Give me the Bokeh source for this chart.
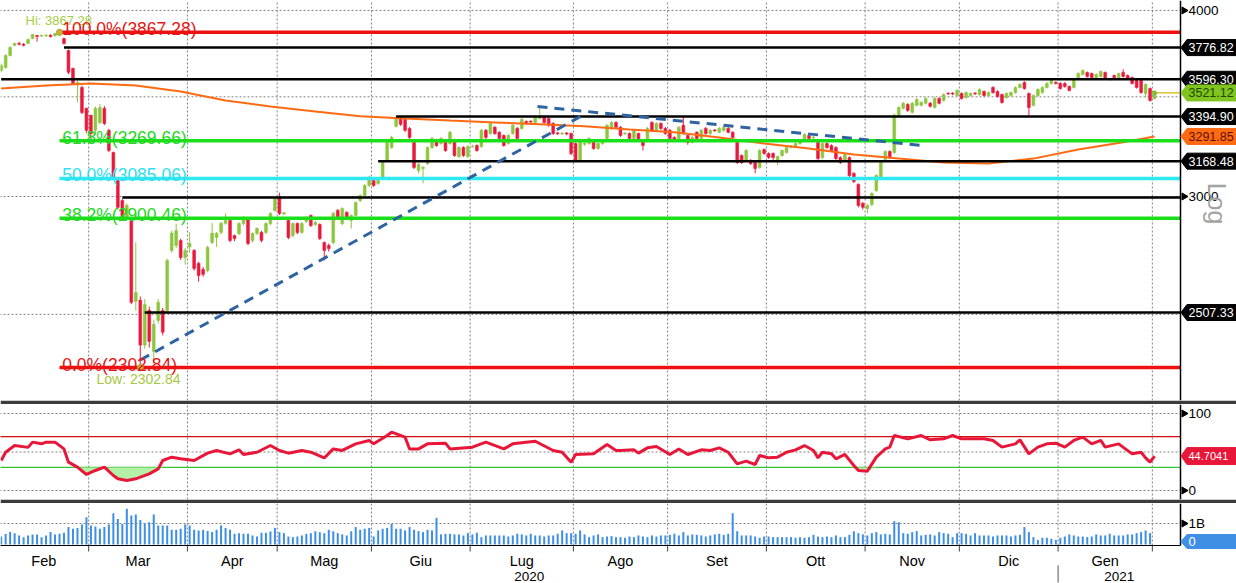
import math
import numpy as np
from bokeh.plotting import figure
from bokeh.layouts import column
from bokeh.models import Range1d
from bokeh.core.properties import value
from bokeh.embed import file_html
from bokeh.resources import INLINE

# ---------------------------------------------------------------- data
month_names = ["Feb", "Mar", "Apr", "Mag", "Giu", "Lug", "Ago", "Set", "Ott", "Nov", "Dic", "Gen", ""]
month_days = [20, 22, 20, 21, 22, 23, 21, 22, 22, 21, 22, 21, 1]
year_names = ["2020", "2021"]

opens = [
    3646, 3663, 3731, 3790, 3801, 3796, 3801, 3830, 3848, 3845,
    3846, 3850, 3846, 3852, 3830, 3760, 3657, 3565, 3551, 3438,
    3401, 3323, 3363, 3438, 3323, 3211, 3075, 2981, 2904, 2891,
    2551, 2555, 2384, 2516, 2361, 2477, 2515, 2515, 2760, 2781,
    2803, 2730, 2775, 2760, 2705, 2680, 2676, 2794, 2816, 2838,
    2878, 2891, 2824, 2833, 2877, 2900, 2803, 2833, 2838, 2838,
    2877, 2936, 2995, 2920, 2891, 2824, 2877, 2838, 2886, 2913,
    2873, 2873, 2794, 2781, 2794, 2936, 2877, 2927, 2891, 2913,
    2981, 3005, 3052, 3075, 3061, 3090, 3172, 3236, 3344, 3391,
    3380, 3333, 3262, 3123, 3133, 3157, 3236, 3272, 3256, 3262,
    3256, 3272, 3191, 3236, 3191, 3240, 3246, 3241, 3323, 3307,
    3339, 3313, 3297, 3256, 3307, 3333, 3333, 3369, 3370, 3364,
    3385, 3390, 3385, 3359, 3310, 3305, 3310, 3307, 3256, 3172,
    3252, 3256, 3262, 3231, 3256, 3282, 3333, 3364, 3339, 3305,
    3307, 3282, 3307, 3272, 3272, 3364, 3323, 3359, 3333, 3323,
    3287, 3282, 3349, 3297, 3262, 3313, 3282, 3333, 3307, 3325,
    3313, 3323, 3333, 3313, 3262, 3196, 3172, 3172, 3162, 3138,
    3226, 3206, 3206, 3172, 3196, 3211, 3238, 3241, 3256, 3272,
    3297, 3285, 3262, 3186, 3256, 3246, 3236, 3186, 3172, 3186,
    3109, 3056, 2968, 2945, 2963, 3028, 3089, 3177, 3216, 3211,
    3401, 3438, 3459, 3417, 3454, 3454, 3465, 3465, 3443, 3491,
    3480, 3520, 3520, 3507, 3518, 3496, 3507, 3520, 3512, 3529,
    3507, 3551, 3529, 3512, 3496, 3507, 3523, 3551, 3579, 3518,
    3454, 3507, 3523, 3551, 3573, 3579, 3573, 3573, 3556, 3551,
    3606, 3623, 3634, 3628, 3606, 3612, 3634, 3593, 3617, 3606,
    3634, 3617, 3606, 3590, 3590, 3518, 3545, 3491,
]
highs = [
    3685, 3738, 3785, 3806, 3810, 3803, 3830, 3858, 3852, 3853,
    3856, 3855, 3864, 3867.28, 3835, 3765, 3662, 3590, 3560, 3442,
    3405, 3448, 3462, 3450, 3330, 3216, 3080, 2990, 2968, 2900,
    2795, 2570, 2560, 2530, 2480, 2560, 2525, 2725, 2845, 2875,
    2810, 2770, 2840, 2765, 2712, 2690, 2780, 2880, 2840, 2885,
    2923, 2898, 2828, 2883, 2910, 2906, 2838, 2860, 2845, 2884,
    2928, 2996, 3018, 2930, 2897, 2883, 2882, 2884, 2910, 2918,
    2890, 2878, 2798, 2790, 2930, 2942, 2950, 2932, 2918, 2978,
    3010, 3058, 3098, 3080, 3082, 3168, 3268, 3295, 3394.9, 3394,
    3386, 3340, 3268, 3160, 3145, 3242, 3290, 3280, 3288, 3268,
    3320, 3280, 3242, 3242, 3248, 3250, 3252, 3330, 3330, 3365,
    3345, 3318, 3302, 3303, 3355, 3340, 3386, 3375, 3375, 3395,
    3452, 3396, 3390, 3365, 3315, 3314, 3314, 3312, 3262, 3278,
    3265, 3288, 3268, 3262, 3278, 3355, 3370, 3370, 3345, 3315,
    3312, 3330, 3312, 3278, 3340, 3370, 3365, 3365, 3340, 3330,
    3292, 3345, 3395, 3302, 3293, 3318, 3330, 3340, 3330, 3330,
    3340, 3345, 3340, 3318, 3268, 3202, 3228, 3178, 3168, 3228,
    3232, 3212, 3212, 3196, 3226, 3242, 3248, 3262, 3278, 3308,
    3303, 3295, 3268, 3262, 3262, 3252, 3242, 3192, 3207, 3192,
    3115, 3062, 2975, 2965, 3020, 3105, 3168, 3222, 3222, 3410,
    3450, 3472, 3466, 3472, 3492, 3476, 3498, 3472, 3498, 3498,
    3518, 3524, 3525, 3541, 3524, 3529, 3524, 3526, 3546, 3535,
    3529, 3558, 3535, 3518, 3524, 3529, 3557, 3574, 3585, 3524,
    3513, 3546, 3557, 3580, 3596.3, 3585, 3580, 3580, 3562, 3601,
    3635, 3652, 3640, 3634, 3629, 3646, 3640, 3602, 3623, 3634,
    3652, 3623, 3612, 3596, 3596, 3574, 3551, 3527,
]
lows = [
    3635, 3655, 3725, 3785, 3790, 3784, 3796, 3826, 3812, 3838,
    3840, 3836, 3842, 3846, 3795, 3625, 3568, 3470, 3408, 3310,
    3266, 3300, 3355, 3350, 3213, 3082, 2941, 2893, 2897, 2540,
    2515, 2302.84, 2370, 2375, 2320, 2465, 2420, 2505, 2750, 2770,
    2720, 2700, 2750, 2675, 2630, 2650, 2668, 2787, 2775, 2830,
    2872, 2795, 2800, 2826, 2870, 2782, 2795, 2826, 2795, 2830,
    2870, 2930, 2915, 2915, 2808, 2815, 2830, 2832, 2880, 2862,
    2866, 2805, 2717, 2755, 2786, 2898, 2870, 2898, 2855, 2908,
    2975, 3000, 3045, 3045, 3055, 3085, 3165, 3230, 3338, 3346,
    3315, 3280, 3130, 3110, 3061, 3150, 3230, 3240, 3250, 3215,
    3250, 3190, 3185, 3190, 3185, 3235, 3215, 3235, 3280, 3300,
    3300, 3275, 3240, 3250, 3300, 3275, 3326, 3352, 3360, 3358,
    3380, 3358, 3342, 3300, 3300, 3300, 3298, 3198, 3165, 3165,
    3245, 3250, 3225, 3225, 3250, 3276, 3326, 3332, 3290, 3300,
    3276, 3276, 3270, 3221, 3266, 3316, 3316, 3326, 3300, 3275,
    3265, 3276, 3300, 3250, 3256, 3275, 3276, 3300, 3300, 3316,
    3308, 3316, 3308, 3280, 3155, 3155, 3166, 3150, 3110, 3132,
    3200, 3180, 3165, 3150, 3190, 3205, 3232, 3236, 3250, 3266,
    3276, 3280, 3175, 3180, 3230, 3215, 3175, 3155, 3166, 3092,
    3063, 2950, 2940, 2922, 2955, 3020, 3082, 3170, 3180, 3205,
    3395, 3432, 3420, 3410, 3448, 3448, 3459, 3443, 3437, 3459,
    3474, 3510, 3508, 3501, 3485, 3490, 3501, 3510, 3506, 3501,
    3501, 3517, 3496, 3463, 3490, 3501, 3517, 3545, 3539, 3401,
    3448, 3501, 3517, 3545, 3567, 3567, 3539, 3550, 3529, 3545,
    3600, 3617, 3606, 3600, 3600, 3606, 3595, 3588, 3600, 3600,
    3606, 3595, 3567, 3545, 3517, 3496, 3474, 3485,
]
closes = [
    3674, 3731, 3778, 3801, 3796, 3790, 3825, 3854, 3842, 3848,
    3850, 3842, 3860, 3865, 3801, 3635, 3573, 3578, 3416, 3323,
    3307, 3438, 3443, 3358, 3221, 3089, 2950, 2904, 2959, 2547,
    2586, 2384, 2539, 2398, 2462, 2547, 2432, 2717, 2835, 2846,
    2730, 2760, 2790, 2684, 2655, 2660, 2773, 2834, 2834, 2878,
    2891, 2803, 2811, 2877, 2904, 2790, 2833, 2855, 2803, 2877,
    2922, 2990, 2922, 2925, 2816, 2877, 2838, 2877, 2904, 2868,
    2882, 2811, 2760, 2768, 2922, 2904, 2945, 2904, 2913, 2972,
    3005, 3052, 3090, 3052, 3075, 3162, 3262, 3287, 3391, 3354,
    3323, 3287, 3138, 3152, 3138, 3236, 3282, 3246, 3282, 3221,
    3313, 3196, 3236, 3196, 3241, 3243, 3221, 3323, 3287, 3359,
    3307, 3282, 3246, 3297, 3349, 3282, 3380, 3359, 3366, 3390,
    3395, 3364, 3349, 3307, 3306, 3309, 3305, 3206, 3172, 3272,
    3258, 3282, 3231, 3256, 3272, 3349, 3364, 3339, 3297, 3308,
    3282, 3323, 3277, 3246, 3333, 3323, 3359, 3333, 3307, 3282,
    3272, 3339, 3307, 3262, 3287, 3282, 3323, 3307, 3323, 3321,
    3333, 3339, 3313, 3287, 3162, 3162, 3221, 3157, 3133, 3221,
    3206, 3186, 3186, 3191, 3221, 3236, 3242, 3256, 3272, 3302,
    3282, 3289, 3181, 3256, 3236, 3221, 3181, 3162, 3201, 3099,
    3070, 2959, 2950, 2959, 3014, 3099, 3162, 3216, 3186, 3401,
    3443, 3465, 3427, 3465, 3486, 3470, 3491, 3449, 3491, 3465,
    3512, 3516, 3515, 3535, 3491, 3523, 3518, 3516, 3540, 3507,
    3523, 3523, 3502, 3470, 3518, 3523, 3551, 3568, 3545, 3443,
    3507, 3540, 3551, 3573, 3590, 3573, 3545, 3556, 3535, 3595,
    3628, 3646, 3612, 3606, 3623, 3640, 3601, 3597, 3606, 3628,
    3612, 3601, 3573, 3551, 3523, 3568, 3480, 3521.12,
]
volume_bn = [
    0.38, 0.50, 0.59, 0.54, 0.43, 0.35, 0.43, 0.48, 0.48, 0.35, 0.43, 0.59, 0.48, 0.51, 0.56, 0.83, 0.75, 0.79, 0.95, 1.30,
    0.90, 0.86, 0.75, 0.83, 0.95, 1.49, 1.22, 0.98, 1.70, 1.38, 1.43, 1.17, 1.00, 1.06, 1.43, 0.90, 0.90, 0.90, 0.70, 0.70, 0.75, 0.95,
    0.90, 0.70, 0.67, 0.70, 0.64, 0.59, 0.70, 0.90, 0.79, 0.70, 0.51, 0.54, 0.51, 0.51, 0.43, 0.38, 0.56, 0.56, 0.62, 0.79,
    0.59, 0.54, 0.38, 0.35, 0.38, 0.43, 0.51, 0.54, 0.63, 0.59, 0.54, 0.70, 0.63, 0.54, 0.48, 0.43, 0.63, 0.83, 0.70, 0.75, 0.79,
    0.38, 0.67, 0.75, 0.79, 0.98, 0.75, 0.75, 0.67, 0.83, 0.70, 0.64, 0.59, 0.70, 0.67, 1.27, 0.48, 0.51, 0.51, 0.48, 0.48, 0.43, 0.54,
    0.48, 0.56, 0.35, 0.43, 0.43, 0.43, 0.43, 0.43, 0.38, 0.43, 0.51, 0.48, 0.43, 0.51, 0.43, 0.43, 0.38, 0.43, 0.43, 0.51, 0.67, 0.54, 0.54,
    0.51, 0.67, 0.48, 0.35, 0.43, 0.48, 0.35, 0.38, 0.40, 0.35, 0.35, 0.32, 0.38, 0.35, 0.43, 0.38, 0.35, 0.43, 0.38, 0.43, 0.43,
    0.46, 0.51, 0.43, 0.59, 0.43, 0.48, 0.46, 0.43, 0.38, 0.43, 0.48, 0.51, 0.46, 0.51, 1.49, 0.63, 0.43, 0.43, 0.43, 0.38, 0.32, 0.38,
    0.38, 0.35, 0.35, 0.35, 0.35, 0.35, 0.32, 0.35, 0.32, 0.35, 0.46, 0.38, 0.35, 0.38, 0.35, 0.43, 0.35, 0.35, 0.46, 0.63, 0.54, 0.48,
    0.43, 0.54, 0.59, 0.48, 0.51, 0.48, 1.11, 1.06, 0.54, 0.51, 0.59, 0.64, 0.43, 0.46, 0.48, 0.43, 0.59, 0.54, 0.51, 0.35, 0.54,
    0.54, 0.51, 0.43, 0.54, 0.43, 0.43, 0.43, 0.38, 0.43, 0.43, 0.43, 0.38, 0.43, 0.46, 0.83, 0.59, 0.35, 0.22, 0.32, 0.32, 0.27, 0.22,
    0.32, 0.38, 0.48, 0.43, 0.38, 0.38, 0.35, 0.38, 0.48, 0.43, 0.43, 0.51, 0.43, 0.43, 0.43, 0.48, 0.48, 0.54, 0.59, 0.67, 0.54, 0.0,
]
ma200_days = [0, 10, 20, 30, 40, 50, 60, 70, 80, 90, 100, 110, 120, 130, 140, 150, 160, 170, 180, 190,
              200, 210, 220, 230, 240, 250, 257]
ma200_vals = [3545, 3562, 3573, 3562, 3529, 3480, 3448, 3422, 3396, 3385, 3374, 3364, 3354, 3344, 3328,
              3313, 3287, 3256, 3231, 3201, 3181, 3162, 3157, 3181, 3226, 3262, 3291.85]
rsi_days = [0, 1, 3, 6, 7, 9, 10, 12, 14, 15, 17, 19, 21, 23, 25, 26, 28, 30, 31, 33, 35, 36, 38, 40, 43,
            46, 48, 51, 53, 54, 57, 60, 62, 64, 67, 69, 72, 74, 76, 79, 82, 83, 86, 87, 90, 91, 93, 95,
            99, 100, 105, 108, 112, 114, 119, 123, 125, 127, 128, 132, 135, 137, 138, 141, 142, 144, 146,
            149, 151, 153, 156, 158, 160, 162, 164, 166, 168, 169, 171, 173, 175, 177, 179, 181, 182, 183,
            185, 186, 188, 190, 191, 193, 195, 197, 198, 199, 202, 205, 207, 210, 212, 214, 219, 221, 223,
            226, 227, 229, 231, 233, 235, 237, 239, 241, 243, 245, 246, 249, 252, 254, 255, 256, 257]
rsi_vals = [39, 49.7, 58.4, 56, 62.8, 60.6, 62.8, 62.8, 54, 36.8, 30.3, 20.8, 26, 30.3, 19.5, 15.2, 13, 15.2,
            17.3, 21.6, 28.1, 39, 43.3, 41.2, 39, 48.5, 52, 47.6, 52.8, 46.8, 49.7, 58.4, 52, 48.5, 52, 49.7,
            42.4, 54, 52, 60.6, 65, 60.6, 71.4, 75.7, 69.3, 54, 54, 60.6, 61.5, 54, 56.3, 62.8, 54, 60.6, 64,
            52, 49.7, 36.8, 46.8, 47.6, 59.7, 52, 52, 52.8, 48.5, 55.4, 57.1, 46.8, 54, 46.8, 52.8, 52, 55.4,
            49.7, 34.6, 38.1, 33.8, 45.5, 42.4, 43.3, 49.7, 52.8, 58.4, 52, 42.4, 49.7, 47.6, 41.2, 46.8,
            32.5, 26, 25.1, 43.3, 54, 56.3, 71.4, 67.1, 71.4, 65.8, 67.1, 71.4, 67.1, 67.1, 65, 56.3, 60.6,
            65.8, 47.6, 56.3, 60.6, 61.5, 56.3, 65, 69.3, 60.6, 65, 56.3, 60.6, 47.6, 49.7, 42.4, 36.8, 44.7041]

fib_pcts = ["100.0%", "61.8%", "50.0%", "38.2%", "0.0%"]
fib_levels = [3867.28, 3269.66, 3085.06, 2900.46, 2302.84]
fib_colors = ["#ee1111", "#19e019", "#2ee8f2", "#19e019", "#ee1111"]
fib_text_colors = ["#e51515", "#22d822", "#2ee0f0", "#22d822", "#e51515"]
level_vals = [3776.82, 3596.30, 3394.90, 3168.48, 2995.0, 2507.33]
level_start = [14, 0, 88, 84, 27, 32]
level_tagged = [True, True, True, True, False, True]
trend_days = [[31, 129.1], [119.5, 205.5]]
trend_vals = [[2330, 3395], [3448, 3246]]
hi_day, hi_val = 13, 3867.28
lo_day, lo_val = 31, 2302.84
price_grid = [2500, 3000, 3500, 4000]
price_ticks = [3000, 4000]
rsi_grid = [0, 50, 100]
rsi_ticks = [0, 100]
rsi_bands = [70, 30]
vol_ticks = [1.0]

# ---------------------------------------------------------------- layout helpers
FONT = "Liberation Sans"
UP, DOWN = "#8dc63f", "#e8193c"
W = 1236
PX0, SPD = 0.66, 4.488


def ux(px):
    return (px - PX0) / SPD


XR = Range1d(ux(0), ux(1236))
X0 = ux(-1)
AXIS_U = ux(1180)
TAG_TIP, TAG_SH, TAG_END, TAG_TXT = ux(1180.5), ux(1186.5), ux(1240), ux(1188)
TRI_X, LBL_X = ux(1183.5), ux(1188)

PPD = 1489.0


def mp(py):
    return 3000.0 * 10 ** ((196.0 - py) / PPD)


def rp(py):
    return (490.0 - py) / 0.77


def vp(py):
    return (544.0 - py) / 21.0


N = len(closes)
days = np.arange(N)
o = np.array(opens, float)
h = np.array(highs, float)
l = np.array(lows, float)
c = np.array(closes, float)
cols = [UP if cc >= oo else DOWN for oo, cc in zip(o, c)]

ends = list(np.cumsum(month_days) - 0.5)
starts = [-0.5] + ends[:-1]
grid_x = ends[:-1]
GRID = dict(line_color="#808080", line_dash="2 2", line_width=1)


def mkfig(hgt, yr, log=False, bb=0):
    p = figure(width=W, height=hgt, x_range=XR, y_range=yr,
               y_axis_type="log" if log else "linear",
               output_backend="svg", toolbar_location=None,
               x_axis_location=None, y_axis_location=None,
               min_border_left=0, min_border_right=0, min_border_top=0,
               min_border_bottom=bb, border_fill_color="#3c3c3c",
               background_fill_color="#ffffff", outline_line_color=None)
    p.grid.visible = False
    return p


def tag_shapes(vals, half, conv):
    xs, ys = [], []
    for v in vals:
        up_, dn_ = conv(v, half), conv(v, -half)
        xs.append([TAG_TIP, TAG_SH, TAG_END, TAG_END, TAG_SH])
        ys.append([v, up_, up_, dn_, dn_])
    return xs, ys


def ltext(p, x, y, txt, color, size, font=FONT, align="left", base="middle", yoff=0, angle=0.0):
    p.text(x=x, y=y, text=txt, text_color=color, text_font=value(font),
           text_font_size=size, text_align=align, text_baseline=base,
           y_offset=yoff, angle=angle)


# ---------------------------------------------------------------- main panel
pm = mkfig(404, Range1d(mp(400), mp(0)), log=True, bb=4)
ng = len(grid_x)
pm.segment(x0=grid_x, x1=grid_x, y0=[mp(400)] * ng, y1=[mp(0)] * ng, **GRID)
pm.segment(x0=[X0] * len(price_grid), x1=[AXIS_U] * len(price_grid),
           y0=price_grid, y1=price_grid, **GRID)

pm.segment(x0=days, x1=days, y0=l, y1=h, line_color=cols, line_width=1)
pm.vbar(x=days, width=0.62, top=np.maximum(o, c), bottom=np.minimum(o, c),
        fill_color=cols, line_color=cols, line_width=0.6)

pm.line(ma200_days, ma200_vals, line_color="#ff6a13", line_width=2)

nl = len(level_vals)
pm.segment(x0=level_start, x1=[AXIS_U] * nl, y0=level_vals, y1=level_vals,
           line_color="black", line_width=2.5)
nf = len(fib_levels)
pm.segment(x0=[hi_day] * nf, x1=[AXIS_U] * nf, y0=fib_levels, y1=fib_levels,
           line_color=fib_colors, line_width=3.5)
for td, tv in zip(trend_days, trend_vals):
    pm.line(td, tv, line_color="#2f64a3", line_width=3, line_dash="10 7")

pm.scatter([hi_day, lo_day], [hi_val, lo_val], size=6, fill_color="#c8b33a", line_color="#a89a2a")

ltext(pm, [ux(25)], [mp(20)], [f"Hi: {hi_val:.2f}"], "#a6cf45", "13px")
ltext(pm, [ux(96)], [mp(378)], [f"Low: {lo_val:.2f}"], "#a6c845", "14px")
ltext(pm, [hi_day + 0.6] * nf, fib_levels,
      [f"{pc}({v:.2f})" for pc, v in zip(fib_pcts, fib_levels)],
      fib_text_colors, "17.5px", base="alphabetic", yoff=-3)

last = closes[-1]
pm.segment(x0=[N - 0.5], x1=[AXIS_U], y0=[last], y1=[last], line_color="#d9b600", line_width=1.2)
pm.scatter([N - 1], [last], size=4, color="#7dbb2a")

pm.segment(x0=[AXIS_U], x1=[AXIS_U], y0=[mp(400)], y1=[mp(0)], line_color="black", line_width=1.5)

logconv = lambda v, d: v * 10 ** (d / PPD)
tag_vals = [v for v, t in zip(level_vals, level_tagged) if t] + [last, ma200_vals[-1]]
tag_bg = ["#000000"] * 5 + ["#80c41f", "#ff6a13"]
tag_fg = ["#ffffff"] * 5 + ["#1d4a00", "#5a1400"]
txs, tys = tag_shapes(tag_vals, 8, logconv)
pm.patches(txs, tys, fill_color=tag_bg, line_color=tag_bg)
ltext(pm, [TAG_TXT] * len(tag_vals), tag_vals, [f"{v:.2f}" for v in tag_vals], tag_fg, "12.5px")

pm.scatter([TRI_X] * len(price_ticks), price_ticks, marker="triangle", angle=-math.pi / 2,
           size=7, color="black")
ltext(pm, [LBL_X] * len(price_ticks), price_ticks, [str(t) for t in price_ticks], "black", "13.5px")
ltext(pm, [ux(1216)], [mp(203)], ["Log"], "#a3a3a3", "25px", align="center", angle=-math.pi / 2)

# ---------------------------------------------------------------- RSI panel
pr = mkfig(99, Range1d(rp(499), rp(404)), bb=4)
pr.segment(x0=grid_x, x1=grid_x, y0=[rp(499)] * ng, y1=[rp(404)] * ng, **GRID)
pr.segment(x0=[X0] * 3, x1=[AXIS_U] * 3, y0=rsi_grid, y1=rsi_grid, **GRID)
pr.segment(x0=[X0] * 2, x1=[AXIS_U] * 2, y0=rsi_bands, y1=rsi_bands,
           line_color=["#d01010", "#33c433"], line_width=1.2)
rv = np.array(rsi_vals, float)
pr.varea(x=rsi_days, y1=np.minimum(rv, 30), y2=np.full(len(rv), 30.0), fill_color="#b4f0a8")
pr.line(rsi_days, rsi_vals, line_color="#e8173a", line_width=3)
pr.segment(x0=[AXIS_U], x1=[AXIS_U], y0=[rp(499)], y1=[rp(404)], line_color="black", line_width=1.5)
pr.scatter([TRI_X] * 2, rsi_ticks, marker="triangle", angle=-math.pi / 2, size=7, color="black")
ltext(pr, [LBL_X] * 2, rsi_ticks, [str(t) for t in rsi_ticks], "black", "13.5px")
lin = lambda ppu: (lambda v, d: v + d / ppu)
rxs, rys = tag_shapes([rsi_vals[-1]], 8.5, lin(0.77))
pr.patches(rxs, rys, fill_color="#e8173a", line_color="#e8173a")
ltext(pr, [TAG_TXT], [rsi_vals[-1]], [f"{rsi_vals[-1]:.4f}"], "#ffffff", "11px")

# ---------------------------------------------------------------- volume panel + time axis
pv = mkfig(80, Range1d(vp(583), vp(503)))
pv.segment(x0=grid_x, x1=grid_x, y0=[vp(545)] * ng, y1=[vp(503)] * ng, **GRID)
pv.segment(x0=[X0], x1=[AXIS_U], y0=vol_ticks, y1=vol_ticks, **GRID)
pv.vbar(x=days, width=0.45, top=volume_bn, bottom=0, fill_color="#3f8fe6", line_color=None)
pv.segment(x0=[AXIS_U], x1=[AXIS_U], y0=[vp(545)], y1=[vp(503)], line_color="black", line_width=1.5)
pv.segment(x0=[X0], x1=[AXIS_U], y0=[vp(545)], y1=[vp(545)], line_color="black", line_width=1.2)
pv.segment(x0=grid_x, x1=grid_x, y0=[vp(545)] * ng, y1=[vp(551)] * ng, line_color="#444444", line_width=1)
pv.scatter([TRI_X], vol_ticks, marker="triangle", angle=-math.pi / 2, size=7, color="black")
ltext(pv, [LBL_X], vol_ticks, ["1B"], "black", "13.5px")
vxs, vys = tag_shapes([vp(541)], 7, lin(21.0))
pv.patches(vxs, vys, fill_color="#3f8fe6", line_color="#3f8fe6")
ltext(pv, [TAG_TXT], [vp(541)], ["0"], "#ffffff", "13px")

mcent = [(s + e) / 2 for s, e in zip(starts, ends)]
ltext(pv, mcent[:-1], [vp(560)] * (len(mcent) - 1), month_names[:-1], "black", "14.5px", align="center")
jan_b = ends[-3]
ycent = [(ux(0) + jan_b) / 2, (jan_b + AXIS_U) / 2]
ltext(pv, ycent, [vp(575.5)] * 2, year_names, "black", "13.5px", align="center")
pv.segment(x0=[jan_b], x1=[jan_b], y0=[vp(565)], y1=[vp(582)], line_color="#555555", line_width=1)

layout = column(pm, pr, pv, spacing=0)
open("out.html", "w").write(file_html(layout, INLINE))
